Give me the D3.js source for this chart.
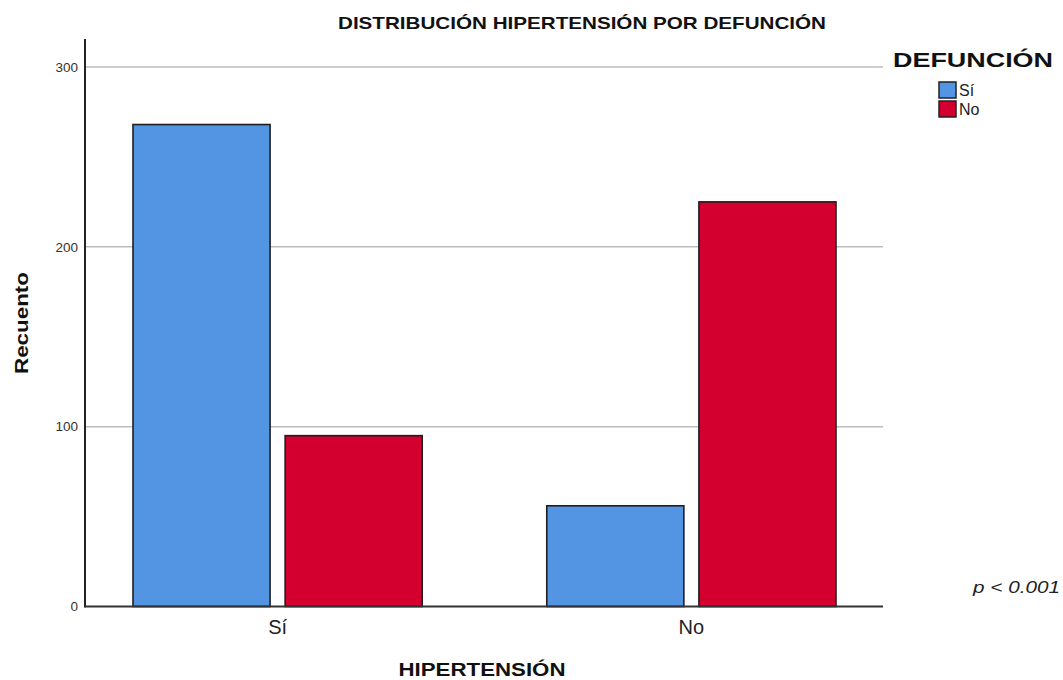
<!DOCTYPE html>
<html><head><meta charset="utf-8">
<script src="https://cdn.jsdelivr.net/npm/d3@7"></script>
<style>body{margin:0;background:#fff}svg{display:block;font-family:"Liberation Sans",Arial,sans-serif}</style>
</head><body>
<svg id="c" width="1063" height="680"></svg>
<script>
const categories = ["Sí", "No"];            // HIPERTENSIÓN
const seriesNames = ["Sí", "No"];           // DEFUNCIÓN
const valuesSi = [268, 56];                 // DEFUNCIÓN = Sí
const valuesNo = [95, 225];                 // DEFUNCIÓN = No
const yTicks = [0, 100, 200, 300];
const colors = ["#5394E3", "#D3002F"];

const svg = d3.select("#c");
const left = 85, right = 883, top0 = 39, bottom = 606.5;

const y = d3.scaleLinear().domain([0, 300]).range([bottom, 67]);
const x0 = d3.scaleBand().domain(categories).range([133, 836]).paddingInner(0.301).paddingOuter(0);
const x1 = d3.scaleBand().domain(seriesNames).range([0, x0.bandwidth()]).paddingInner(0.099).paddingOuter(0);

// gridlines
svg.append("g").selectAll("line").data(yTicks.filter(d => d > 0)).join("line")
  .attr("x1", left).attr("x2", right).attr("y1", d => y(d)).attr("y2", d => y(d))
  .attr("stroke", "#bdbdbd").attr("stroke-width", 1.5);

// y axis
const yAxis = svg.append("g").attr("transform", `translate(${left},0)`)
  .call(d3.axisLeft(y).tickValues(yTicks).tickSize(0).tickPadding(7));
yAxis.select(".domain").remove();
yAxis.selectAll("text").attr("font-size", 13.5).attr("fill", "#333").attr("font-family", "Liberation Sans, Arial, sans-serif");

// bars
const rows = categories.map((c, i) => ({cat: c, vals: [valuesSi[i], valuesNo[i]]}));
svg.append("g").selectAll("g").data(rows).join("g")
  .attr("transform", d => `translate(${x0(d.cat)},0)`)
  .selectAll("rect").data(d => d.vals.map((v, j) => ({s: seriesNames[j], v, j}))).join("rect")
  .attr("x", d => x1(d.s)).attr("width", x1.bandwidth())
  .attr("y", d => y(d.v)).attr("height", d => y(0) - y(d.v))
  .attr("fill", d => colors[d.j]).attr("stroke", "#1e1e1e").attr("stroke-width", 1.6);

// axis lines
svg.append("line").attr("x1", left).attr("x2", left).attr("y1", top0).attr("y2", bottom + 1)
  .attr("stroke", "#222").attr("stroke-width", 2);
const xAxis = svg.append("g").attr("transform", `translate(0,${bottom})`)
  .call(d3.axisBottom(x0).tickSize(0).tickPadding(13));
xAxis.select(".domain").remove();
svg.append("line").attr("x1", left).attr("x2", right).attr("y1", bottom).attr("y2", bottom)
  .attr("stroke", "#333").attr("stroke-width", 2);
xAxis.selectAll("text").attr("font-size", 20).attr("fill", "#222").attr("font-family", "Liberation Sans, Arial, sans-serif");

// titles
svg.append("text").attr("x", 338).attr("y", 29).attr("font-size", 17).attr("font-weight", "bold")
  .attr("fill", "#111").attr("textLength", 488).attr("lengthAdjust", "spacingAndGlyphs")
  .text("DISTRIBUCIÓN HIPERTENSIÓN POR DEFUNCIÓN");
svg.append("text").attr("x", 482).attr("y", 676).attr("text-anchor", "middle").attr("font-size", 19)
  .attr("font-weight", "bold").attr("fill", "#111").attr("textLength", 167).attr("lengthAdjust", "spacingAndGlyphs")
  .text("HIPERTENSIÓN");
svg.append("text").attr("transform", "translate(28,323) rotate(-90)").attr("text-anchor", "middle")
  .attr("font-size", 19).attr("font-weight", "bold").attr("fill", "#111")
  .attr("textLength", 102).attr("lengthAdjust", "spacingAndGlyphs").text("Recuento");

// legend
svg.append("text").attr("x", 893).attr("y", 67).attr("font-size", 20).attr("font-weight", "bold")
  .attr("fill", "#111").attr("textLength", 160).attr("lengthAdjust", "spacingAndGlyphs").text("DEFUNCIÓN");
const lg = svg.append("g").selectAll("g").data(seriesNames).join("g")
  .attr("transform", (d, i) => `translate(939,${82 + i * 19})`);
lg.append("rect").attr("width", 17).attr("height", 16).attr("fill", (d, i) => colors[i])
  .attr("stroke", "#222").attr("stroke-width", 1.5);
lg.append("text").attr("x", 20).attr("y", 14).attr("font-size", 16).attr("fill", "#222").text(d => d);

// p-value
svg.append("text").attr("x", 1060).attr("y", 593).attr("text-anchor", "end").attr("font-size", 17)
  .attr("font-style", "italic").attr("fill", "#222").attr("textLength", 87).attr("lengthAdjust", "spacingAndGlyphs")
  .text("p < 0.001");
</script>
</body></html>
